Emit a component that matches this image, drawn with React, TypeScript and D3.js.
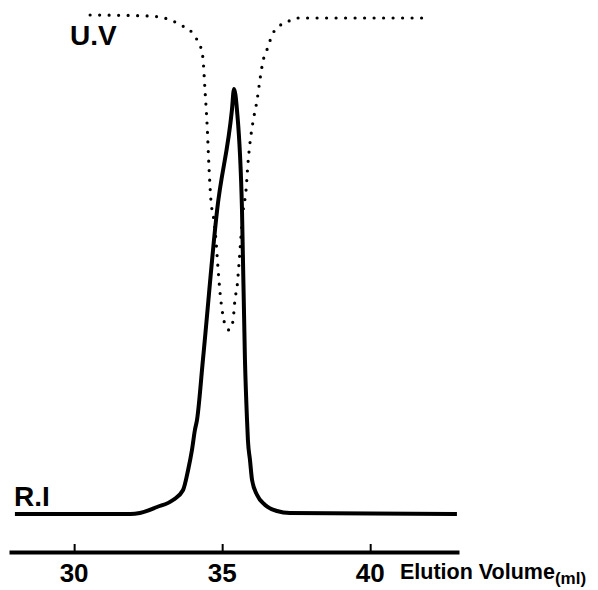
import React, { useRef, useEffect } from 'react';
import * as d3 from 'd3';

// elution volume (ml) and refractive index signal
const riVolume = [28.0, 31.0, 31.9, 32.22, 32.8, 33.34, 33.68, 33.85, 33.98, 34.08, 34.15, 34.35, 34.83, 35.33, 35.4, 35.5, 35.67, 35.77, 35.84, 35.87, 35.94, 36.01, 36.18, 36.45, 36.85, 37.29, 42.93];
const riSignal = [0, 0, 0, 0.2, 1.4, 2.8, 4.8, 8.8, 12.8, 16.8, 18.8, 30.8, 60.8, 80.8, 85, 80.8, 60.8, 30.8, 18.8, 14.8, 10.8, 6.8, 3.8, 1.8, 0.6, 0.2, 0];

// UV absorbance trace (dotted)
const uvVolume = [30.54, 32.56, 33.34, 33.58, 33.91, 34.08, 34.25, 34.35, 34.42, 34.49, 34.56, 34.62, 34.72, 34.79, 34.86, 34.93, 35.03, 35.1, 35.23, 35.33, 35.4, 35.43, 35.5, 35.57, 35.7, 35.81, 35.87, 35.94, 36.04, 36.18, 36.28, 36.38, 36.51, 36.72, 36.89, 37.19, 37.53, 41.92];
const uvSignal = [99.8, 99.6, 98.6, 97.8, 96.8, 95.4, 93.8, 91.2, 84.8, 78, 68.8, 62.8, 58.8, 54.8, 49.2, 44.2, 39.6, 37.8, 36.8, 37.6, 40.6, 42.8, 45.2, 50.2, 60.2, 65, 70, 74.2, 78.4, 82.8, 87, 90.6, 92.8, 96.2, 97.4, 98.4, 99.2, 99.2];

const tickValues = [30, 35, 40];

const W = 598;
const H = 590;

const Chromatogram: React.FC = () => {
    const ref = useRef<SVGSVGElement>(null);

    useEffect(() => {
        if (!ref.current) return;
        const svg = d3.select(ref.current);
        svg.selectAll("*").remove();

        const x = d3.scaleLinear().domain([27.8, 43]).range([9, 459]);
        const y = d3.scaleLinear().domain([0, 100]).range([514, 14]);

        const line = d3.line<[number, number]>()
            .x(d => x(d[0]))
            .y(d => y(d[1]))
            .curve(d3.curveMonotoneX);

        const ri = riVolume.map((v, i) => [v, riSignal[i]] as [number, number]);
        const uv = uvVolume.map((v, i) => [v, uvSignal[i]] as [number, number]);

        svg.append("path")
            .attr("d", line(uv)!)
            .attr("fill", "none")
            .attr("stroke", "#000")
            .attr("stroke-width", 3.2)
            .attr("stroke-linecap", "round")
            .attr("stroke-dasharray", "0 9.5");

        svg.append("path")
            .attr("d", line(ri)!)
            .attr("fill", "none")
            .attr("stroke", "#000")
            .attr("stroke-width", 4)
            .attr("stroke-linejoin", "round");

        // axis with ticks pointing up, labels below
        const axisY = 552;
        const axis = svg.append("g")
            .attr("transform", `translate(0,${axisY})`)
            .call(d3.axisTop(x).tickValues(tickValues).tickSize(8).tickSizeOuter(0).tickFormat(() => ""));
        axis.select(".domain").attr("stroke", "#000").attr("stroke-width", 4);
        axis.selectAll(".tick line").attr("stroke", "#000").attr("stroke-width", 2);

        svg.append("g")
            .selectAll("text")
            .data(tickValues)
            .enter()
            .append("text")
            .attr("x", d => x(d))
            .attr("y", 582)
            .attr("text-anchor", "middle")
            .attr("font-family", "'Liberation Sans', Arial, sans-serif")
            .attr("font-weight", "bold")
            .attr("font-size", 26)
            .text(d => d);

        const label = svg.append("text")
            .attr("x", 400)
            .attr("y", 579)
            .attr("font-family", "'Liberation Sans', Arial, sans-serif")
            .attr("font-weight", "bold")
            .attr("font-size", 21.5);
        label.append("tspan").text("Elution Volume");
        label.append("tspan").attr("dy", 5).attr("font-size", 17).text("(ml)");

        svg.append("text")
            .attr("x", 70)
            .attr("y", 45)
            .attr("font-family", "'Liberation Sans', Arial, sans-serif")
            .attr("font-weight", "bold")
            .attr("font-size", 28)
            .text("U.V");

        svg.append("text")
            .attr("x", 14)
            .attr("y", 506)
            .attr("font-family", "'Liberation Sans', Arial, sans-serif")
            .attr("font-weight", "bold")
            .attr("font-size", 28)
            .text("R.I");
    }, []);

    return (
        <svg ref={ref} width={W} height={H}
            style={{ position: 'absolute', left: 0, top: 0, background: '#fff' }} />
    );
};

export default function App() {
    return <Chromatogram />;
}
